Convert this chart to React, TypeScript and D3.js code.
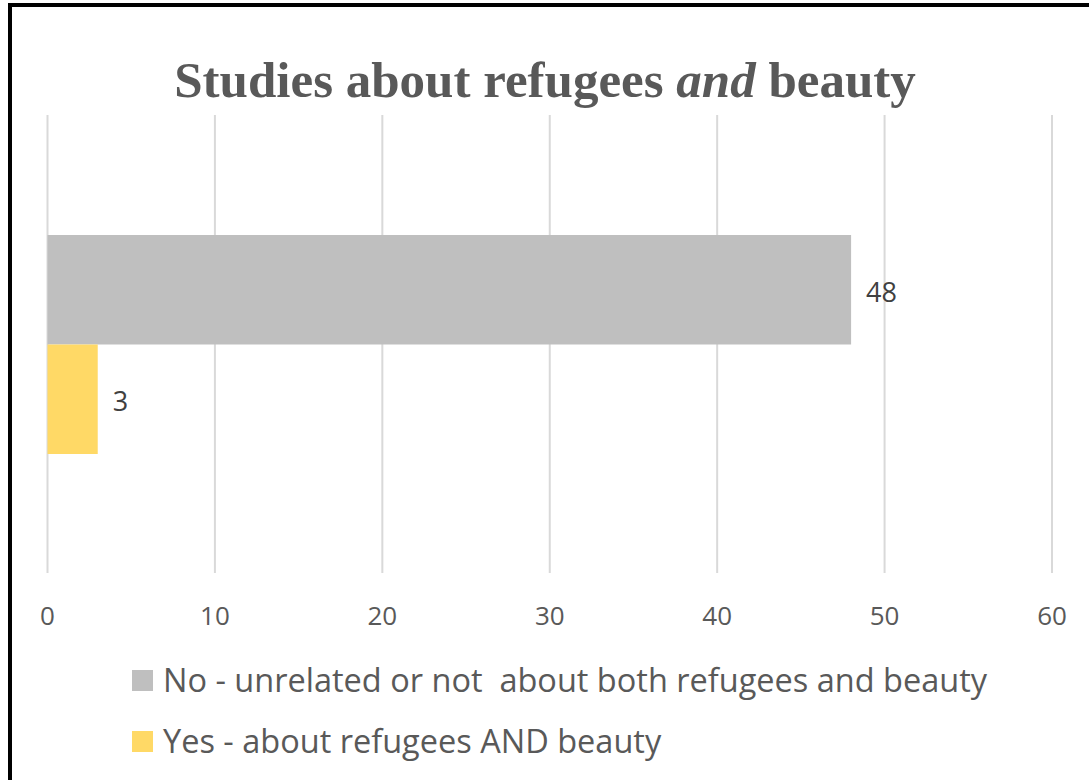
import { useEffect, useRef } from 'react';
import * as d3 from 'd3';

const categories = ['No - unrelated or not  about both refugees and beauty', 'Yes - about refugees AND beauty'];
const values = [48, 3];
const colors = ['#bfbfbf', '#ffd966'];
const ticks = [0, 10, 20, 30, 40, 50, 60];

export default function App() {
  const svgRef = useRef<SVGSVGElement>(null);

  useEffect(() => {
    const width = 1089;
    const height = 780;
    const svg = d3.select(svgRef.current).attr('width', width).attr('height', height);
    svg.selectAll('*').remove();

    svg.append('rect').attr('width', width).attr('height', height).attr('fill', '#fff');

    // frame (clipped on right and bottom)
    svg.append('rect')
      .attr('x', 10).attr('y', 5)
      .attr('width', 1200).attr('height', 900)
      .attr('fill', 'none').attr('stroke', '#000').attr('stroke-width', 4);

    // title
    const title = svg.append('text')
      .attr('x', 545).attr('y', 97)
      .attr('text-anchor', 'middle')
      .attr('fill', '#595959')
      .style('font-family', '"Liberation Serif", serif')
      .style('font-weight', 'bold')
      .style('font-size', '51px');
    title.append('tspan').text('Studies about refugees ');
    title.append('tspan').style('font-style', 'italic').text('and');
    title.append('tspan').text(' beauty');

    const x = d3.scaleLinear().domain([0, 60]).range([47.5, 1052]);
    const y = d3.scaleBand<number>().domain([0, 1]).range([235, 454]).padding(0);

    // gridlines
    svg.append('g')
      .selectAll('line')
      .data(ticks)
      .join('line')
      .attr('x1', d => x(d)).attr('x2', d => x(d))
      .attr('y1', 115).attr('y2', 573)
      .attr('stroke', '#d9d9d9').attr('stroke-width', 2);

    // tick labels
    svg.append('g')
      .selectAll('text')
      .data(ticks)
      .join('text')
      .attr('x', d => x(d)).attr('y', 625)
      .attr('text-anchor', 'middle')
      .attr('fill', '#595959')
      .style('font-family', '"Open Sans", sans-serif')
      .style('font-size', '26px')
      .text(d => d);

    // bars
    svg.append('g')
      .selectAll('rect')
      .data(values)
      .join('rect')
      .attr('x', x(0))
      .attr('y', (_, i) => y(i)!)
      .attr('width', d => x(d) - x(0))
      .attr('height', y.bandwidth())
      .attr('fill', (_, i) => colors[i]);

    // value labels
    svg.append('g')
      .selectAll('text')
      .data(values)
      .join('text')
      .attr('x', d => x(d) + 15)
      .attr('y', (_, i) => y(i)! + y.bandwidth() / 2 + 12)
      .attr('fill', '#404040')
      .style('font-family', '"Open Sans", sans-serif')
      .style('font-size', '27px')
      .text(d => d);

    // legend
    const legend = svg.append('g');
    categories.forEach((c, i) => {
      const ly = 670 + i * 61;
      legend.append('rect')
        .attr('x', 132).attr('y', ly)
        .attr('width', 21).attr('height', 21)
        .attr('fill', colors[i]);
      legend.append('text')
        .attr('x', 163).attr('y', ly + 22)
        .attr('fill', '#595959')
        .attr('xml:space', 'preserve')
        .style('white-space', 'pre')
        .style('font-family', '"Open Sans", sans-serif')
        .style('font-size', '32.5px')
        .text(c);
    });
  }, []);

  return (
    <div style={{ position: 'absolute', left: 0, top: 0 }}>
      <svg ref={svgRef} style={{ display: 'block' }}></svg>
    </div>
  );
}
